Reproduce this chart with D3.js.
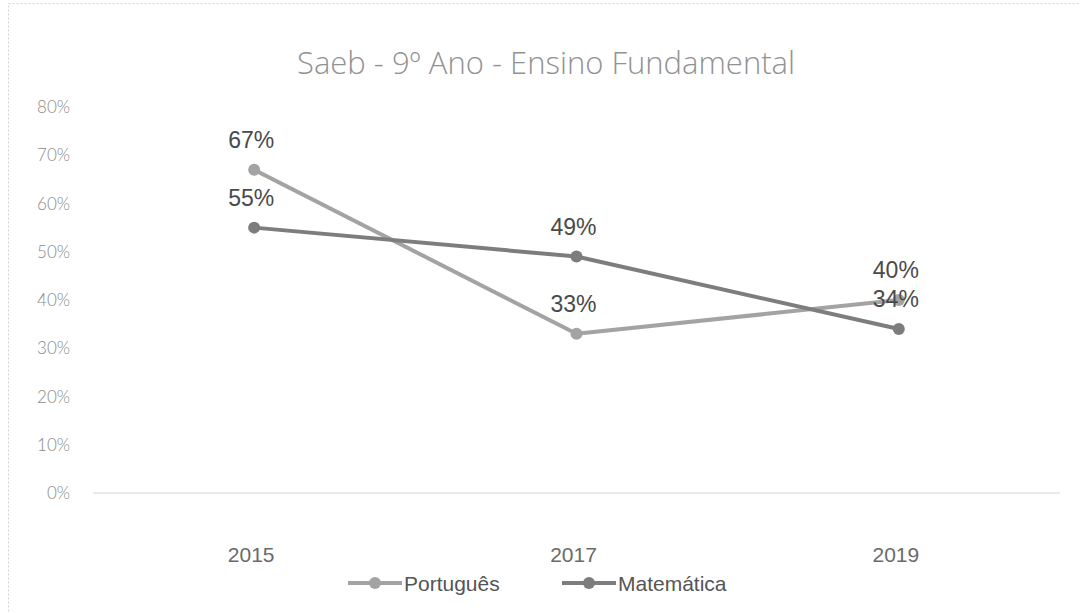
<!DOCTYPE html>
<html>
<head>
<meta charset="utf-8">
<script src="https://cdn.jsdelivr.net/npm/d3@7"></script>
<style>
  body { margin: 0; background: #fff; }
  svg { display: block; }
</style>
</head>
<body>
<svg id="chart" width="1080" height="613"></svg>
<script>
const years = ["2015", "2017", "2019"];
const portugues = [67, 33, 40];
const matematica = [55, 49, 34];
const yTicks = [0, 10, 20, 30, 40, 50, 60, 70, 80];

const series = [
  { name: "Português", values: portugues, color: "#a3a3a3" },
  { name: "Matemática", values: matematica, color: "#7d7d7d" }
];

const svg = d3.select("#chart");

// faint scanned border
svg.append("rect")
  .attr("x", 8.5).attr("y", 3.5)
  .attr("width", 1090).attr("height", 640)
  .attr("fill", "none")
  .attr("stroke", "#d4d4d4")
  .attr("stroke-dasharray", "2,2");

const x = d3.scalePoint().domain(years).range([93, 1060]).padding(0.5);
const y = d3.scaleLinear().domain([0, 80]).range([493, 107]);

svg.append("text")
  .attr("x", 546).attr("y", 74)
  .attr("text-anchor", "middle")
  .attr("font-family", "Open Sans")
  .attr("font-weight", 300)
  .attr("font-size", 31)
  .attr("fill", "#929292")
  .text("Saeb - 9º Ano - Ensino Fundamental");

// y tick labels
svg.selectAll(".ytick")
  .data(yTicks)
  .enter()
  .append("text")
  .attr("class", "ytick")
  .attr("x", 70)
  .attr("y", d => y(d) + 6)
  .attr("text-anchor", "end")
  .attr("font-family", "Lato")
  .attr("font-weight", 300)
  .attr("font-size", 17)
  .attr("fill", "#8a8a8a")
  .text(d => d + "%");

// baseline
svg.append("line")
  .attr("x1", 93).attr("x2", 1060)
  .attr("y1", y(0)).attr("y2", y(0))
  .attr("stroke", "#e3e3e3")
  .attr("stroke-width", 1.5);

// x labels
svg.selectAll(".xtick")
  .data(years)
  .enter()
  .append("text")
  .attr("class", "xtick")
  .attr("x", d => x(d) - 3)
  .attr("y", 562)
  .attr("text-anchor", "middle")
  .attr("font-family", "Liberation Sans")
  .attr("font-size", 21)
  .attr("fill", "#6a6a6a")
  .text(d => d);

const line = d3.line()
  .x((d, i) => x(years[i]))
  .y(d => y(d));

series.forEach(s => {
  svg.append("path")
    .datum(s.values)
    .attr("d", line)
    .attr("fill", "none")
    .attr("stroke", s.color)
    .attr("stroke-width", 4)
    .attr("stroke-linejoin", "round");

  svg.selectAll(null)
    .data(s.values)
    .enter()
    .append("circle")
    .attr("cx", (d, i) => x(years[i]))
    .attr("cy", d => y(d))
    .attr("r", 6)
    .attr("fill", s.color);
});

series.forEach(s => {
  svg.selectAll(null)
    .data(s.values)
    .enter()
    .append("text")
    .attr("x", (d, i) => x(years[i]) - 3)
    .attr("y", d => y(d) - 22)
    .attr("text-anchor", "middle")
    .attr("font-family", "Liberation Sans")
    .attr("font-size", 23)
    .attr("fill", "#4a4a4a")
    .text(d => d + "%");
});

// legend
const legendX = [348, 562];
const legend = svg.selectAll(".legend")
  .data(series)
  .enter()
  .append("g")
  .attr("class", "legend")
  .attr("transform", (d, i) => `translate(${legendX[i]}, 583)`);

legend.append("line")
  .attr("x1", 0).attr("x2", 54)
  .attr("stroke", d => d.color)
  .attr("stroke-width", 4);

legend.append("circle")
  .attr("cx", 27).attr("r", 6)
  .attr("fill", d => d.color);

legend.append("text")
  .attr("x", 56).attr("y", 8)
  .attr("font-family", "Liberation Sans")
  .attr("font-size", 21)
  .attr("fill", "#555")
  .text(d => d.name);
</script>
</body>
</html>
